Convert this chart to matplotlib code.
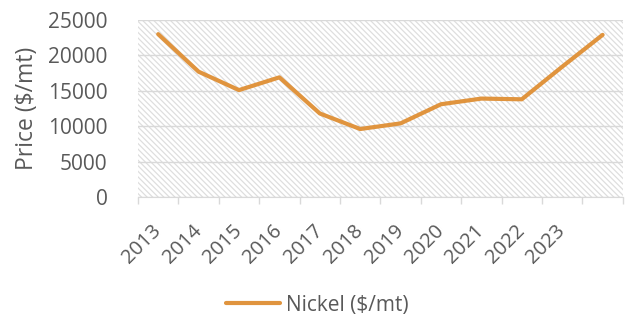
import matplotlib
matplotlib.use('Agg')
import matplotlib.pyplot as plt
from matplotlib.patches import Rectangle
import matplotlib.transforms as mtransforms

# --- DATA ---
years = ['2013', '2014', '2015', '2016', '2017', '2018',
         '2019', '2020', '2021', '2022', '2023', '']
nickel = [23000, 17700, 15100, 16900, 11800, 9600,
          10400, 13100, 13900, 13800, 18400, 22900]
yticks = [0, 5000, 10000, 15000, 20000, 25000]

TEXT = '#595959'
LINE = '#E0943E'
GRID = '#d9d9d9'

plt.rcParams['font.family'] = ['Open Sans', 'DejaVu Sans']
plt.rcParams['hatch.linewidth'] = 0.9

fig = plt.figure(figsize=(6.31, 3.21), dpi=100)
ax = fig.add_axes([0.2187, 0.3863, 0.7683, 0.5514])

# hatched plot area
ax.add_patch(Rectangle((0, 0), 1, 1, transform=ax.transAxes, facecolor='none',
                       edgecolor='#dedede', hatch='\\\\\\\\\\\\', lw=0, zorder=0))

x = list(range(len(nickel)))
ax.plot(x, nickel, color=LINE, lw=3, solid_joinstyle='round',
        solid_capstyle='round', label='Nickel ($/mt)', zorder=3)

ax.set_xlim(-0.5, len(nickel) - 0.5)
ax.set_ylim(0, 25000)
ax.set_yticks(yticks)
ax.set_yticklabels([str(v) for v in yticks])
ax.yaxis.grid(True, color=GRID, lw=1, zorder=1)
ax.set_axisbelow(True)

# category boundaries as tick marks, labels at centres
ax.set_xticks([i - 0.5 for i in range(len(nickel) + 1)])
ax.set_xticklabels([])
ax.set_xticks(x, minor=True)
ax.set_xticklabels(years, minor=True, rotation=45, ha='right', va='center',
                   rotation_mode='anchor', fontsize=14.5, color=TEXT)
shift = mtransforms.ScaledTranslation(5 / 100, 0, fig.dpi_scale_trans)
for lab in ax.get_xticklabels(minor=True):
    lab.set_transform(lab.get_transform() + shift)
ax.tick_params(axis='x', which='major', length=5, color=GRID, width=1)
ax.tick_params(axis='x', which='minor', length=0, pad=22)
ax.yaxis.set_tick_params(length=0, labelsize=15, labelcolor=TEXT, pad=22)

for s in ['left', 'right', 'top']:
    ax.spines[s].set_visible(False)
ax.spines['bottom'].set_color(GRID)

ax.set_ylabel('Price ($/mt)', fontsize=16.5, color=TEXT, labelpad=6)

fig.legend(loc='center', bbox_to_anchor=(0.503, 1 - 305 / 321), frameon=False,
           fontsize=15, labelcolor=TEXT, handlelength=2.6, handletextpad=0.3)

fig.savefig('out.png', dpi=100)
